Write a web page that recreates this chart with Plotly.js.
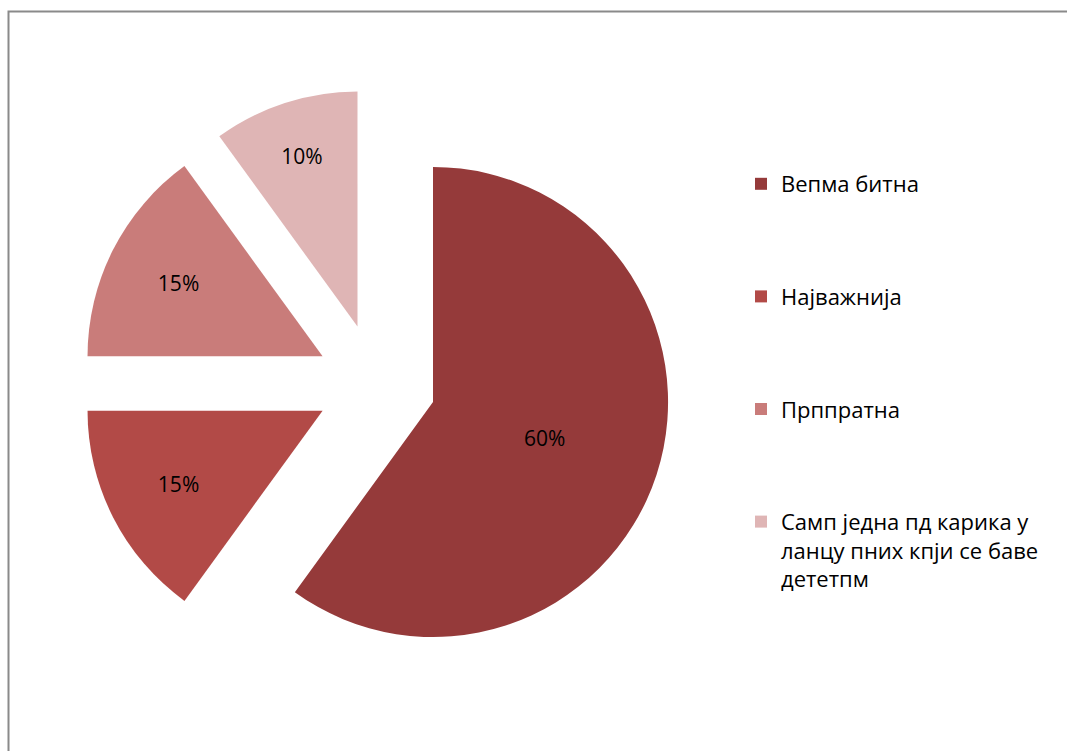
<!DOCTYPE html>
<html>
<head>
<meta charset="utf-8">
<script src="https://cdn.plot.ly/plotly-3.0.1.min.js"></script>
<style>html,body{margin:0;padding:0;background:#fff;}#chart{width:1067px;height:751px;}</style>
</head>
<body>
<div id="chart"></div>
<script>
// Data
var categories = ['Вепма битна', 'Најважнија', 'Прппратна', 'Самп једна пд карика у ланцу пних кпји се баве дететпм'];
var legendLabels = ['Вепма битна', 'Најважнија', 'Прппратна', 'Самп једна пд карика у<br>ланцу пних кпји се баве<br>дететпм'];
var shares = [60, 15, 15, 10];
var sliceColors = ['#953A3A', '#B24A47', '#C97C7A', '#DFB5B5'];

var FONT = 'Open Sans, Noto Sans, DejaVu Sans, sans-serif';

var traces = [{
  type: 'pie',
  labels: categories,
  values: shares,
  sort: false,
  direction: 'clockwise',
  rotation: 0,
  pull: 0.255,
  marker: {colors: sliceColors, line: {width: 0}},
  textinfo: 'percent',
  textposition: 'inside',
  insidetextorientation: 'horizontal',
  textfont: {family: FONT, size: 21, color: '#000000'},
  showlegend: false,
  hoverinfo: 'label+percent',
  domain: {x: [81 / 1067, 671 / 1067], y: [72.5 / 751, 662.5 / 751]}
}];

// legend entries (one per category)
for (var i = 0; i < categories.length; i++) {
  traces.push({
    type: 'scatter',
    mode: 'markers',
    x: [null], y: [null],
    name: legendLabels[i],
    legendgroup: 'g' + i,
    marker: {symbol: 'square', size: 12, color: sliceColors[i]},
    showlegend: true,
    hoverinfo: 'skip'
  });
}

var layout = {
  width: 1067,
  height: 751,
  margin: {l: 0, r: 0, t: 0, b: 0},
  paper_bgcolor: '#ffffff',
  plot_bgcolor: '#ffffff',
  xaxis: {visible: false},
  yaxis: {visible: false},
  showlegend: true,
  legend: {
    x: 741 / 1067, xanchor: 'left',
    y: (751 - 163) / 751, yanchor: 'top',
    font: {family: FONT, size: 22, color: '#000000'},
    tracegroupgap: 81,
    valign: 'top',
    bgcolor: 'rgba(0,0,0,0)'
  },
  shapes: [{
    type: 'rect', xref: 'paper', yref: 'paper',
    x0: 8.5 / 1067, x1: 1.05, y0: -0.05, y1: (751 - 11.5) / 751,
    line: {color: '#8A8A8A', width: 2},
    fillcolor: 'rgba(0,0,0,0)',
    layer: 'below'
  }]
};

Plotly.newPlot('chart', traces, layout, {displayModeBar: false, staticPlot: true});
</script>
</body>
</html>
